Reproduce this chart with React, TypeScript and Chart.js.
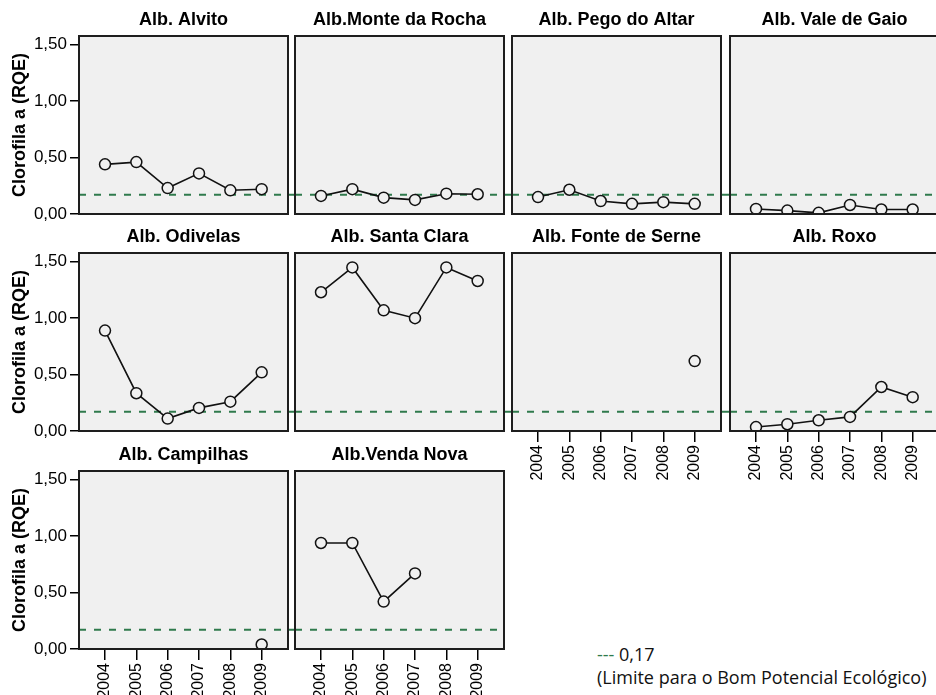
import React, { useEffect, useRef } from 'react';
import { Chart, registerables } from 'chart.js';

Chart.register(...registerables);
Chart.defaults.font.family = 'Arial, "Liberation Sans", sans-serif';
Chart.defaults.color = '#000';

// ---- data ----
const years = ['2004', '2005', '2006', '2007', '2008', '2009'];
const yTicks = [0, 0.5, 1.0, 1.5];
const limitValue = 0.17;
const yAxisTitle = 'Clorofila a (RQE)';

const alvito = [0.44, 0.46, 0.23, 0.36, 0.21, 0.22];
const monteDaRocha = [0.16, 0.22, 0.145, 0.125, 0.18, 0.175];
const pegoDoAltar = [0.15, 0.215, 0.115, 0.09, 0.105, 0.09];
const valeDeGaio = [0.045, 0.03, 0.01, 0.08, 0.04, 0.04];
const odivelas = [0.89, 0.335, 0.11, 0.205, 0.26, 0.52];
const santaClara = [1.23, 1.45, 1.07, 1.0, 1.45, 1.33];
const fonteDeSerne = [null, null, null, null, null, 0.62];
const roxo = [0.035, 0.06, 0.095, 0.125, 0.39, 0.3];
const campilhas = [null, null, null, null, null, 0.04];
const vendaNova = [0.94, 0.94, 0.42, 0.67, null, null];

const panels = [
  { title: 'Alb. Alvito', values: alvito, row: 0, col: 0, yAxis: true, xAxis: false, extend: true },
  { title: 'Alb.Monte da Rocha', values: monteDaRocha, row: 0, col: 1, yAxis: false, xAxis: false, extend: true },
  { title: 'Alb. Pego do Altar', values: pegoDoAltar, row: 0, col: 2, yAxis: false, xAxis: false, extend: true },
  { title: 'Alb. Vale de Gaio', values: valeDeGaio, row: 0, col: 3, yAxis: false, xAxis: false, extend: false },
  { title: 'Alb. Odivelas', values: odivelas, row: 1, col: 0, yAxis: true, xAxis: false, extend: true },
  { title: 'Alb. Santa Clara', values: santaClara, row: 1, col: 1, yAxis: false, xAxis: false, extend: true },
  { title: 'Alb. Fonte de Serne', values: fonteDeSerne, row: 1, col: 2, yAxis: false, xAxis: true, extend: true },
  { title: 'Alb. Roxo', values: roxo, row: 1, col: 3, yAxis: false, xAxis: true, extend: false },
  { title: 'Alb. Campilhas', values: campilhas, row: 2, col: 0, yAxis: true, xAxis: true, extend: true },
  { title: 'Alb.Venda Nova', values: vendaNova, row: 2, col: 1, yAxis: false, xAxis: true, extend: false },
];

// ---- layout ----
const COL_LEFT = [79, 295, 512, 730];
const ROW_TOP = [36, 253, 471];
const BOX_W = 209;
const BOX_H = 178;
const TITLE_H = 30;
const X_AXIS_H = 56;
const Y_AXIS_W = 79;
const PAD_B = 16;
const X_MIN = 2003.17;
const X_MAX = 2009.84;
const Y_MAX = 1.578;
const PANEL_BG = '#f0f0f0';
const LIMIT_COLOR = '#2f7a4c';

const panelFrame = {
  id: 'panelFrame',
  beforeDraw(chart: any) {
    const { ctx, chartArea: a } = chart;
    ctx.save();
    ctx.fillStyle = PANEL_BG;
    ctx.fillRect(a.left, a.top, a.right - a.left, a.bottom - a.top);
    ctx.restore();
  },
  afterDraw(chart: any) {
    const { ctx, chartArea: a } = chart;
    ctx.save();
    ctx.strokeStyle = '#1e1e1e';
    ctx.lineWidth = 2;
    ctx.strokeRect(a.left, a.top, a.right - a.left, a.bottom - a.top);
    ctx.restore();
  },
};

function Panel({ p }: { p: any }) {
  const ref = useRef<HTMLCanvasElement>(null);
  const padL = p.yAxis ? 0 : 2;
  const padR = p.extend ? 10 : 2;
  const padB = p.xAxis ? 0 : PAD_B;
  const left = p.yAxis ? COL_LEFT[p.col] - Y_AXIS_W : COL_LEFT[p.col] - 2;
  const top = ROW_TOP[p.row] - TITLE_H;
  const width = (p.yAxis ? Y_AXIS_W : 2) + BOX_W + padR;
  const height = TITLE_H + BOX_H + (p.xAxis ? X_AXIS_H : padB);

  useEffect(() => {
    if (!ref.current) return;
    const chart = new Chart(ref.current, {
      type: 'line',
      data: {
        datasets: [
          {
            data: years.map((y, i) => ({ x: Number(y), y: p.values[i] })),
            borderColor: '#111',
            borderWidth: 1.6,
            tension: 0,
            pointRadius: 5.5,
            pointBorderWidth: 1.5,
            pointBorderColor: '#111',
            pointBackgroundColor: PANEL_BG,
            spanGaps: false,
          },
          {
            data: [
              { x: X_MIN, y: limitValue },
              { x: X_MAX + (p.extend ? 0.4 : 0), y: limitValue },
            ],
            borderColor: LIMIT_COLOR,
            borderWidth: 2,
            borderDash: [7, 8],
            pointRadius: 0,
            clip: { left: 0, top: 0, bottom: 0, right: p.extend ? 10 : 0 },
          },
        ],
      } as any,
      plugins: [panelFrame],
      options: {
        responsive: false,
        animation: false,
        devicePixelRatio: 1,
        events: [],
        layout: { autoPadding: false, padding: { left: padL, right: padR, top: 0, bottom: padB } },
        plugins: {
          legend: { display: false },
          tooltip: { enabled: false },
          title: {
            display: true,
            text: p.title,
            fullSize: false,
            color: '#000',
            font: { size: 18, weight: 'bold', lineHeight: '20px' },
            padding: { top: 4, bottom: 6 },
          },
        },
        scales: {
          x: {
            type: 'linear',
            min: X_MIN,
            max: X_MAX,
            display: p.xAxis,
            afterBuildTicks: (s: any) => {
              s.ticks = years.map((y) => ({ value: Number(y) }));
            },
            afterFit: (s: any) => {
              s.height = p.xAxis ? X_AXIS_H : 0;
            },
            ticks: {
              autoSkip: false,
              minRotation: 90,
              maxRotation: 90,
              padding: 3,
              color: '#000',
              font: { size: 16 },
              callback: (v: any) => String(v),
            },
            grid: {
              display: true,
              drawOnChartArea: false,
              drawTicks: true,
              tickLength: 11,
              color: '#000',
              lineWidth: 1.5,
            },
            border: { display: false },
          },
          y: {
            type: 'linear',
            min: 0,
            max: Y_MAX,
            display: p.yAxis,
            afterBuildTicks: (s: any) => {
              s.ticks = yTicks.map((v) => ({ value: v }));
            },
            afterFit: (s: any) => {
              s.width = p.yAxis ? Y_AXIS_W : 0;
            },
            ticks: {
              padding: 3,
              color: '#000',
              font: { size: 17 },
              callback: (v: any) => Number(v).toFixed(2).replace('.', ','),
            },
            grid: {
              display: true,
              drawOnChartArea: false,
              drawTicks: true,
              tickLength: 9,
              color: '#000',
              lineWidth: 1.5,
            },
            border: { display: false },
            title: {
              display: true,
              text: yAxisTitle,
              color: '#000',
              font: { size: 18, weight: 'bold' },
              padding: { top: 9, bottom: 0 },
            },
          },
        },
      } as any,
    });
    return () => chart.destroy();
  }, []);

  return (
    <canvas
      ref={ref}
      width={width}
      height={height}
      style={{ position: 'absolute', left, top, width, height }}
    />
  );
}

export default function App() {
  return (
    <div
      style={{
        position: 'absolute',
        left: 0,
        top: 0,
        width: 936,
        height: 695,
        overflow: 'hidden',
        background: '#fff',
      }}
    >
      {panels.map((p) => (
        <Panel key={p.title} p={p} />
      ))}
      <div
        style={{
          position: 'absolute',
          left: 597,
          top: 643,
          fontFamily: '"Open Sans", sans-serif',
          fontSize: 18,
          lineHeight: '23px',
          color: '#111',
          whiteSpace: 'nowrap',
        }}
      >
        <span style={{ color: LIMIT_COLOR }}>---</span> 0,17
        <br />
        (Limite para o Bom Potencial Ecológico)
      </div>
    </div>
  );
}
